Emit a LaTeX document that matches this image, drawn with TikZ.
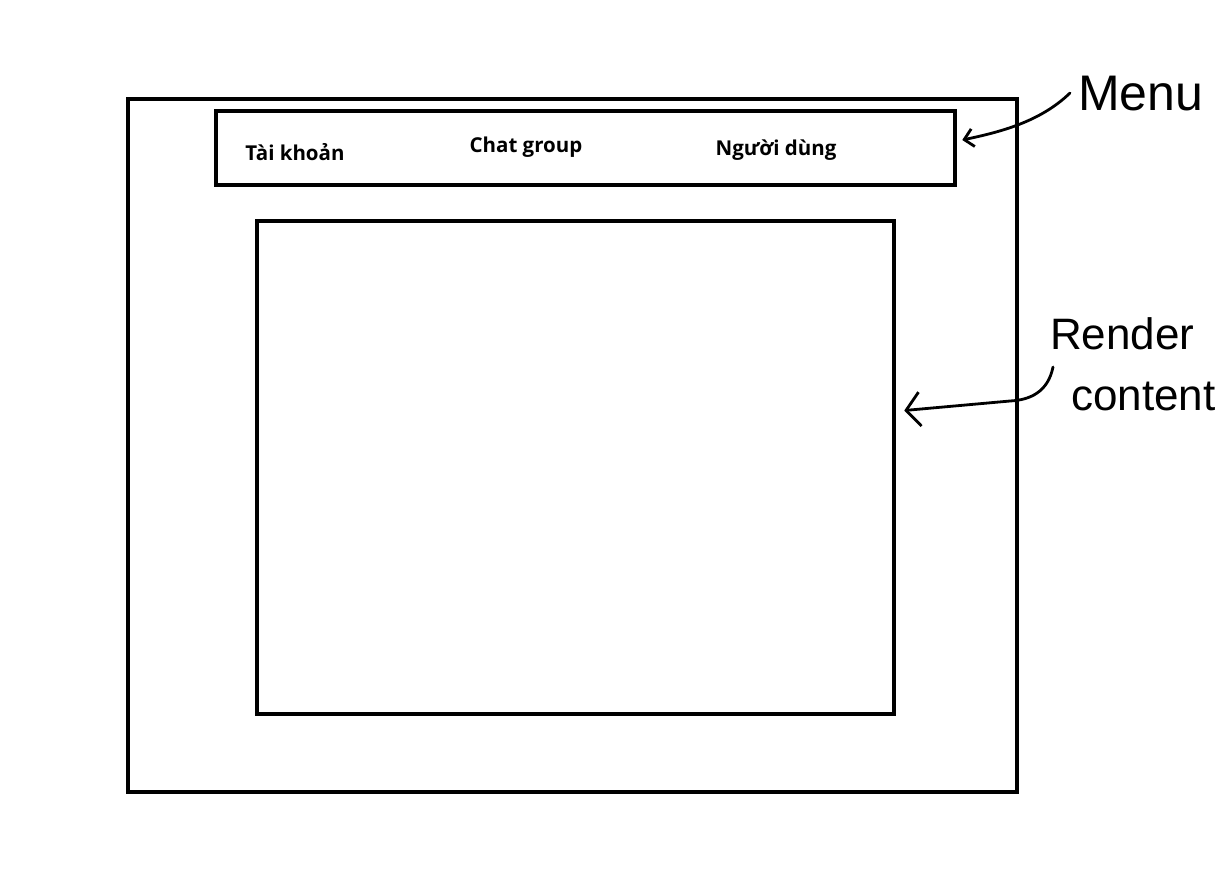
\documentclass[tikz,border=0pt]{standalone}
\usepackage{fontspec}
\setmainfont{Open Sans}
\newfontfamily\handfont{Liberation Sans}
\usetikzlibrary{arrows.meta}
\tikzset{
  box/.style={draw=black, line width=4.5pt, inner sep=0pt, fill=none},
  item/.style={font=\bfseries\fontsize{20.5}{20.5}\selectfont, inner sep=0pt},
  hand/.style={font=\handfont\fontsize{44}{44}\selectfont, inner sep=0pt, anchor=west},
  pointer/.style={line width=2.8pt, line cap=round, line join=round},
}
\begin{document}
\begin{tikzpicture}[x=1pt,y=-1pt]
\useasboundingbox[fill=white] (0,0) rectangle (1228,884);
% boxes
\node[box, minimum width=889pt, minimum height=693pt] (frame) at (572.5,445.5) {};
\node[box, minimum width=739pt, minimum height=74pt] (menubox) at (585.5,148) {};
\node[box, minimum width=637pt, minimum height=493pt] (content) at (575.5,467.5) {};
% menu items
\node[item] (tk) at (295,152) {Tài khoản};
\node[item] (cg) at (526,147) {Chat group};
\node[item] (nd) at (776,150) {Người dùng};
% handwritten labels
\node[hand, font=\handfont\fontsize{50}{50}\selectfont] (menulabel) at (1078,94) {Menu};
\node[hand] (render) at (1050,334) {Render};
\node[hand] (contentlabel) at (1071,396) {content};
% arrows
\coordinate (m0) at (1070,93);
\coordinate (mend) at ([xshift=5pt,yshift=8pt]menubox.east);
\draw[pointer, -{Straight Barb[length=9pt,width=18pt,line width=2.8pt]}]
  (m0) .. controls (1040,122) and (1000,132) .. (mend);
\coordinate (r0) at (1053,367);
\coordinate (rend) at ([xshift=8pt,yshift=57pt]content.east);
\draw[pointer, -{Straight Barb[length=14pt,width=34pt,line width=2.8pt]}]
  (r0) .. controls (1048,392) and (1030,400) .. (1010,401) -- (rend);
\end{tikzpicture}
\end{document}
